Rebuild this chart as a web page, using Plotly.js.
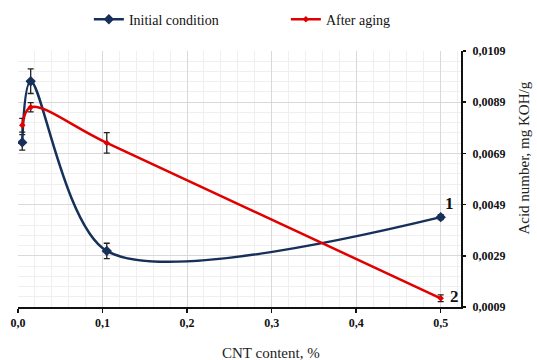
<!DOCTYPE html>
<html>
<head>
<meta charset="utf-8">
<script src="https://cdn.plot.ly/plotly-3.0.1.min.js"></script>
<style>html,body{margin:0;padding:0;background:#fff;}#chart{width:537px;height:360px;}</style>
</head>
<body>
<div id="chart"></div>
<script>
// CNT content, %
const xInitial = [0.005, 0.015, 0.105, 0.5];
// Acid number, mg KOH/g
const yInitial = [0.00733, 0.00972, 0.00309, 0.00441];
const errInitial = [0.0003, 0.00048, 0.0003, 0.0001];

const xAged = [0.005, 0.015, 0.105, 0.5];
const yAged = [0.0080, 0.0087, 0.00731, 0.00124];
const errAged = [0.00027, 0.00018, 0.0004, 0.00013];

const seriesNames = ["Initial condition", "After aging"];
const curveLabels = ["1", "2"];

const xTickVals = [0, 0.1, 0.2, 0.3, 0.4, 0.5];
const xTickText = ["0,0", "0,1", "0,2", "0,3", "0,4", "0,5"];
const yTickVals = [0.0009, 0.0029, 0.0049, 0.0069, 0.0089, 0.0109];
const yTickText = ["0,0009", "0,0029", "0,0049", "0,0069", "0,0089", "0,0109"];

const serif = "Liberation Serif";

const traces = [
  {
    x: xInitial, y: yInitial, name: seriesNames[0], type: "scatter", mode: "lines+markers",
    line: {color: "#17305a", width: 2.5, shape: "spline", smoothing: 0.85},
    marker: {symbol: "diamond", size: 8, color: "#17305a"},
    error_y: {type: "data", array: errInitial, visible: true, color: "#222", thickness: 1.3, width: 3}
  },
  {
    x: xAged, y: yAged, name: seriesNames[1], type: "scatter", mode: "lines+markers",
    line: {color: "#e00000", width: 2.5, shape: "spline", smoothing: 1},
    marker: {symbol: "diamond", size: 5, color: "#e00000"},
    error_y: {type: "data", array: errAged, visible: true, color: "#222", thickness: 1.3, width: 3}
  }
];

const layout = {
  width: 537, height: 360,
  margin: {l: 18, r: 76, t: 51, b: 53, autoexpand: false},
  paper_bgcolor: "#fff", plot_bgcolor: "#fff",
  font: {family: serif, color: "#111"},
  showlegend: true,
  legend: {
    orientation: "h", x: 0.16, xanchor: "left", y: 1.185, yanchor: "top",
    font: {family: serif, size: 14, color: "#111"},
    entrywidth: 152, entrywidthmode: "pixels",
    bgcolor: "rgba(0,0,0,0)"
  },
  xaxis: {
    range: [0, 0.524],
    tickmode: "array", tickvals: xTickVals, ticktext: xTickText,
    tickfont: {family: serif, size: 12, weight: "bold", color: "#111"},
    showline: true, linecolor: "#111", linewidth: 2,
    ticks: "outside", ticklen: 4, tickcolor: "#111", tickwidth: 1.5,
    showgrid: true, gridcolor: "#d9d9d9", gridwidth: 1,
    minor: {tick0: 0, dtick: 0.02, showgrid: true, gridcolor: "#efefef", gridwidth: 1},
    zeroline: false
  },
  yaxis: {
    side: "right",
    range: [0.0009, 0.0109],
    tickmode: "array", tickvals: yTickVals, ticktext: yTickText,
    tickfont: {family: serif, size: 12, weight: "bold", color: "#111"},
    ticklabelstandoff: 4,
    showline: true, linecolor: "#111", linewidth: 2,
    ticks: "outside", ticklen: 3, tickcolor: "#111", tickwidth: 1.5,
    showgrid: true, gridcolor: "#d9d9d9", gridwidth: 1,
    minor: {tick0: 0.0009, dtick: 0.0004, showgrid: true, gridcolor: "#efefef", gridwidth: 1},
    zeroline: false
  },
  annotations: [
    {text: "CNT content, %", xref: "paper", yref: "paper", x: 0.57, y: -0.18, xanchor: "center", yanchor: "middle",
     showarrow: false, font: {family: serif, size: 15, color: "#222"}},
    {text: "Acid number, mg KOH/g", xref: "paper", yref: "paper", x: 1.14, y: 0.58, xanchor: "center", yanchor: "middle",
     textangle: -90, showarrow: false, font: {family: serif, size: 15, color: "#222"}},
    {text: curveLabels[0], x: xInitial[3], y: yInitial[3], xref: "x", yref: "y", ax: 9, ay: -14, showarrow: true, arrowcolor: "rgba(0,0,0,0)",
     font: {family: serif, size: 17, weight: "bold", color: "#111"}},
    {text: curveLabels[1], x: xAged[3], y: yAged[3], xref: "x", yref: "y", ax: 14, ay: -2, showarrow: true, arrowcolor: "rgba(0,0,0,0)",
     font: {family: serif, size: 17, weight: "bold", color: "#111"}}
  ]
};

Plotly.newPlot("chart", traces, layout, {displayModeBar: false, staticPlot: true});
</script>
</body>
</html>
